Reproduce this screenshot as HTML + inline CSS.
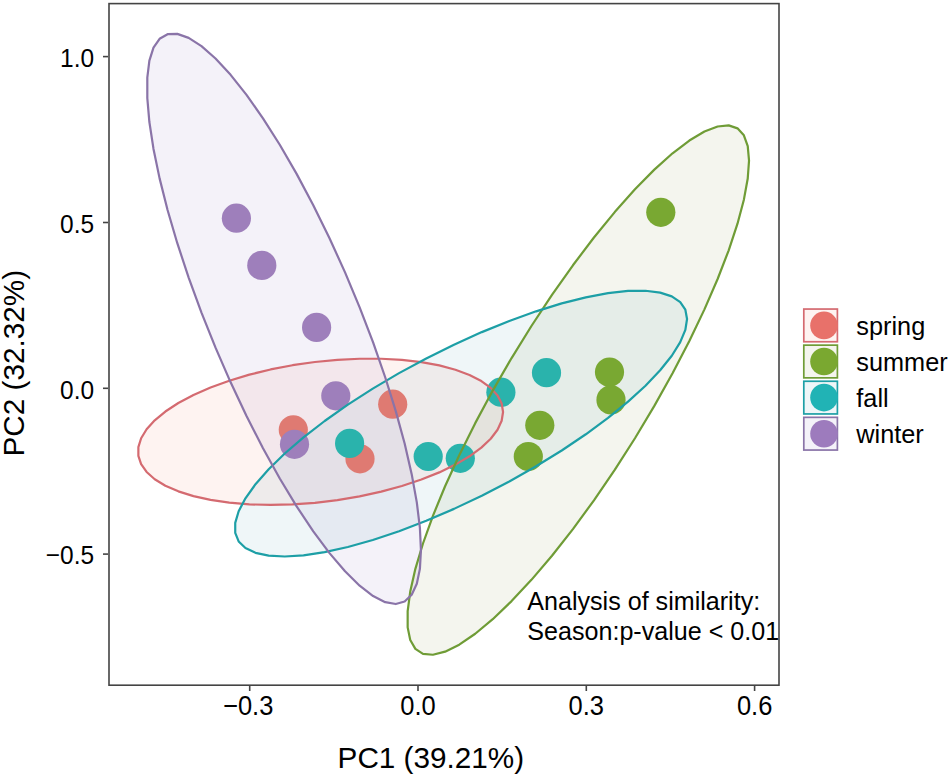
<!DOCTYPE html>
<html><head><meta charset="utf-8"><style>html,body{margin:0;padding:0;background:#fff;}svg{display:block}</style></head>
<body><svg width="950" height="777" viewBox="0 0 950 777">
<rect width="950" height="777" fill="#fff"/>
<polygon points="503.05,411.98 501.67,420.79 497.54,429.76 490.73,438.77 481.34,447.66 469.51,456.32 455.42,464.60 439.29,472.39 421.35,479.56 401.89,486.01 381.20,491.63 359.58,496.35 337.38,500.09 314.92,502.79 292.54,504.42 270.59,504.94 249.39,504.36 229.28,502.67 210.55,499.92 193.48,496.12 178.34,491.36 165.36,485.69 154.73,479.20 146.61,471.99 141.13,464.18 138.37,455.87 138.37,447.20 141.13,438.29 146.61,429.29 154.73,420.32 165.36,411.53 178.34,403.04 193.48,394.99 210.55,387.50 229.28,380.68 249.39,374.63 270.59,369.45 292.54,365.21 314.92,361.99 337.38,359.82 359.58,358.74 381.20,358.77 401.89,359.90 421.35,362.13 439.29,365.41 455.42,369.70 469.51,374.93 481.34,381.02 490.73,387.88 497.54,395.40 501.67,403.48" fill="rgb(245,135,115)" fill-opacity="0.1"/>
<polygon points="749.04,160.53 747.74,178.49 743.88,199.66 737.50,223.71 728.71,250.28 717.63,278.98 704.45,309.36 689.34,340.96 672.56,373.31 654.34,405.91 634.97,438.27 614.74,469.91 593.95,500.33 572.92,529.08 551.98,555.73 531.43,579.86 511.59,601.12 492.76,619.18 475.23,633.77 459.25,644.66 445.08,651.69 432.93,654.76 422.98,653.82 415.38,648.88 410.25,640.02 407.66,627.36 407.66,611.12 410.25,591.52 415.38,568.86 422.98,543.50 432.93,515.82 445.08,486.22 459.25,455.17 475.23,423.14 492.76,390.60 511.59,358.05 531.43,326.00 551.98,294.91 572.92,265.27 593.95,237.51 614.74,212.08 634.97,189.34 654.34,169.64 672.56,153.29 689.34,140.52 704.45,131.54 717.63,126.48 728.71,125.41 737.50,128.36 743.88,135.28 747.74,146.06" fill="rgb(145,155,85)" fill-opacity="0.1"/>
<polygon points="687.06,319.01 685.35,329.90 680.23,342.20 671.79,355.74 660.16,370.31 645.50,385.69 628.05,401.64 608.06,417.92 585.84,434.28 561.73,450.49 536.09,466.28 509.31,481.43 481.80,495.70 453.97,508.88 426.25,520.76 399.05,531.17 372.79,539.95 347.87,546.96 324.66,552.11 303.52,555.30 284.76,556.50 268.68,555.68 255.50,552.86 245.45,548.08 238.66,541.41 235.23,532.95 235.23,522.84 238.66,511.22 245.45,498.27 255.50,484.19 268.68,469.19 284.76,453.50 303.52,437.35 324.66,421.00 347.87,404.68 372.79,388.65 399.05,373.15 426.25,358.41 453.97,344.66 481.80,332.11 509.31,320.94 536.09,311.33 561.73,303.42 585.84,297.33 608.06,293.15 628.05,290.95 645.50,290.76 660.16,292.59 671.79,296.39 680.23,302.13 685.35,309.71" fill="rgb(95,165,185)" fill-opacity="0.1"/>
<polygon points="420.94,550.10 419.90,568.86 416.81,583.83 411.69,594.79 404.65,601.56 395.77,604.04 385.20,602.20 373.10,596.06 359.64,585.72 345.04,571.33 329.51,553.12 313.29,531.35 296.63,506.35 279.78,478.52 262.99,448.26 246.52,416.04 230.62,382.34 215.52,347.68 201.47,312.59 188.66,277.58 177.30,243.20 167.56,209.97 159.59,178.38 153.49,148.92 149.38,122.04 147.31,98.14 147.31,77.58 149.38,60.68 153.49,47.70 159.59,38.82 167.56,34.18 177.30,33.86 188.66,37.86 201.47,46.11 215.52,58.50 230.62,74.83 246.52,94.86 262.99,118.29 279.78,144.75 296.63,173.86 313.29,205.15 329.51,238.18 345.04,272.42 359.64,307.36 373.10,342.48 385.20,377.24 395.77,411.11 404.65,443.58 411.69,474.16 416.81,502.39 419.90,527.83" fill="rgb(145,125,195)" fill-opacity="0.1"/>
<circle cx="293.3" cy="429.8" r="14.6" fill="#DF7A72"/>
<circle cx="392.7" cy="404.2" r="14.6" fill="#DF7A72"/>
<circle cx="360.0" cy="458.8" r="14.6" fill="#DF7A72"/>
<circle cx="660.8" cy="212.3" r="14.6" fill="#79A832"/>
<circle cx="609.5" cy="372.1" r="14.6" fill="#79A832"/>
<circle cx="611.0" cy="399.9" r="14.6" fill="#79A832"/>
<circle cx="539.8" cy="425.3" r="14.6" fill="#79A832"/>
<circle cx="528.3" cy="456.5" r="14.6" fill="#79A832"/>
<circle cx="349.6" cy="443.4" r="14.6" fill="#2AB3AC"/>
<circle cx="428.2" cy="456.5" r="14.6" fill="#2AB3AC"/>
<circle cx="460.3" cy="458.3" r="14.6" fill="#2AB3AC"/>
<circle cx="500.9" cy="392.2" r="14.6" fill="#2AB3AC"/>
<circle cx="546.5" cy="372.7" r="14.6" fill="#2AB3AC"/>
<circle cx="236.4" cy="218.2" r="14.6" fill="#9E7FBB"/>
<circle cx="261.8" cy="265.4" r="14.6" fill="#9E7FBB"/>
<circle cx="316.6" cy="327.4" r="14.6" fill="#9E7FBB"/>
<circle cx="335.8" cy="395.8" r="14.6" fill="#9E7FBB"/>
<circle cx="294.5" cy="444.3" r="14.6" fill="#9E7FBB"/>
<polygon points="503.05,411.98 501.67,420.79 497.54,429.76 490.73,438.77 481.34,447.66 469.51,456.32 455.42,464.60 439.29,472.39 421.35,479.56 401.89,486.01 381.20,491.63 359.58,496.35 337.38,500.09 314.92,502.79 292.54,504.42 270.59,504.94 249.39,504.36 229.28,502.67 210.55,499.92 193.48,496.12 178.34,491.36 165.36,485.69 154.73,479.20 146.61,471.99 141.13,464.18 138.37,455.87 138.37,447.20 141.13,438.29 146.61,429.29 154.73,420.32 165.36,411.53 178.34,403.04 193.48,394.99 210.55,387.50 229.28,380.68 249.39,374.63 270.59,369.45 292.54,365.21 314.92,361.99 337.38,359.82 359.58,358.74 381.20,358.77 401.89,359.90 421.35,362.13 439.29,365.41 455.42,369.70 469.51,374.93 481.34,381.02 490.73,387.88 497.54,395.40 501.67,403.48" fill="none" stroke="#D46A70" stroke-width="2.2" stroke-linejoin="round"/>
<polygon points="749.04,160.53 747.74,178.49 743.88,199.66 737.50,223.71 728.71,250.28 717.63,278.98 704.45,309.36 689.34,340.96 672.56,373.31 654.34,405.91 634.97,438.27 614.74,469.91 593.95,500.33 572.92,529.08 551.98,555.73 531.43,579.86 511.59,601.12 492.76,619.18 475.23,633.77 459.25,644.66 445.08,651.69 432.93,654.76 422.98,653.82 415.38,648.88 410.25,640.02 407.66,627.36 407.66,611.12 410.25,591.52 415.38,568.86 422.98,543.50 432.93,515.82 445.08,486.22 459.25,455.17 475.23,423.14 492.76,390.60 511.59,358.05 531.43,326.00 551.98,294.91 572.92,265.27 593.95,237.51 614.74,212.08 634.97,189.34 654.34,169.64 672.56,153.29 689.34,140.52 704.45,131.54 717.63,126.48 728.71,125.41 737.50,128.36 743.88,135.28 747.74,146.06" fill="none" stroke="#6F9C36" stroke-width="2.2" stroke-linejoin="round"/>
<polygon points="687.06,319.01 685.35,329.90 680.23,342.20 671.79,355.74 660.16,370.31 645.50,385.69 628.05,401.64 608.06,417.92 585.84,434.28 561.73,450.49 536.09,466.28 509.31,481.43 481.80,495.70 453.97,508.88 426.25,520.76 399.05,531.17 372.79,539.95 347.87,546.96 324.66,552.11 303.52,555.30 284.76,556.50 268.68,555.68 255.50,552.86 245.45,548.08 238.66,541.41 235.23,532.95 235.23,522.84 238.66,511.22 245.45,498.27 255.50,484.19 268.68,469.19 284.76,453.50 303.52,437.35 324.66,421.00 347.87,404.68 372.79,388.65 399.05,373.15 426.25,358.41 453.97,344.66 481.80,332.11 509.31,320.94 536.09,311.33 561.73,303.42 585.84,297.33 608.06,293.15 628.05,290.95 645.50,290.76 660.16,292.59 671.79,296.39 680.23,302.13 685.35,309.71" fill="none" stroke="#1D9FA6" stroke-width="2.2" stroke-linejoin="round"/>
<polygon points="420.94,550.10 419.90,568.86 416.81,583.83 411.69,594.79 404.65,601.56 395.77,604.04 385.20,602.20 373.10,596.06 359.64,585.72 345.04,571.33 329.51,553.12 313.29,531.35 296.63,506.35 279.78,478.52 262.99,448.26 246.52,416.04 230.62,382.34 215.52,347.68 201.47,312.59 188.66,277.58 177.30,243.20 167.56,209.97 159.59,178.38 153.49,148.92 149.38,122.04 147.31,98.14 147.31,77.58 149.38,60.68 153.49,47.70 159.59,38.82 167.56,34.18 177.30,33.86 188.66,37.86 201.47,46.11 215.52,58.50 230.62,74.83 246.52,94.86 262.99,118.29 279.78,144.75 296.63,173.86 313.29,205.15 329.51,238.18 345.04,272.42 359.64,307.36 373.10,342.48 385.20,377.24 395.77,411.11 404.65,443.58 411.69,474.16 416.81,502.39 419.90,527.83" fill="none" stroke="#8A74A8" stroke-width="2.2" stroke-linejoin="round"/>
<rect x="109.0" y="3.6" width="670.0" height="681.6" fill="none" stroke="#444" stroke-width="1.6"/>
<line x1="103" y1="56.6" x2="108" y2="56.6" stroke="#444" stroke-width="1.6"/>
<text transform="translate(94.1 66.9) scale(1 1.08)" text-anchor="end" font-size="24.5" fill="#000" style='font-family:"Liberation Sans",sans-serif;'>1.0</text>
<line x1="103" y1="222.5" x2="108" y2="222.5" stroke="#444" stroke-width="1.6"/>
<text transform="translate(94.1 232.8) scale(1 1.08)" text-anchor="end" font-size="24.5" fill="#000" style='font-family:"Liberation Sans",sans-serif;'>0.5</text>
<line x1="103" y1="388.3" x2="108" y2="388.3" stroke="#444" stroke-width="1.6"/>
<text transform="translate(94.1 398.6) scale(1 1.08)" text-anchor="end" font-size="24.5" fill="#000" style='font-family:"Liberation Sans",sans-serif;'>0.0</text>
<line x1="103" y1="554.1" x2="108" y2="554.1" stroke="#444" stroke-width="1.6"/>
<text transform="translate(94.1 564.4) scale(1 1.08)" text-anchor="end" font-size="24.5" fill="#000" style='font-family:"Liberation Sans",sans-serif;'>−0.5</text>
<line x1="249.7" y1="685.5" x2="249.7" y2="691" stroke="#444" stroke-width="1.6"/>
<text transform="translate(248.2 715.4) scale(1 1.08)" text-anchor="middle" font-size="25.5" fill="#000" style='font-family:"Liberation Sans",sans-serif;'>−0.3</text>
<line x1="418.0" y1="685.5" x2="418.0" y2="691" stroke="#444" stroke-width="1.6"/>
<text transform="translate(418.0 715.4) scale(1 1.08)" text-anchor="middle" font-size="25.5" fill="#000" style='font-family:"Liberation Sans",sans-serif;'>0.0</text>
<line x1="586.3" y1="685.5" x2="586.3" y2="691" stroke="#444" stroke-width="1.6"/>
<text transform="translate(586.3 715.4) scale(1 1.08)" text-anchor="middle" font-size="25.5" fill="#000" style='font-family:"Liberation Sans",sans-serif;'>0.3</text>
<line x1="754.6" y1="685.5" x2="754.6" y2="691" stroke="#444" stroke-width="1.6"/>
<text transform="translate(754.6 715.4) scale(1 1.08)" text-anchor="middle" font-size="25.5" fill="#000" style='font-family:"Liberation Sans",sans-serif;'>0.6</text>
<text transform="translate(430.8 767.8) scale(1 1.02)" text-anchor="middle" font-size="29.7" fill="#000" style='font-family:"Liberation Sans",sans-serif;'>PC1 (39.21%)</text>
<text transform="translate(24.2 363.2) rotate(-90) scale(1 1.0)" text-anchor="middle" font-size="29.7" fill="#000" style='font-family:"Liberation Sans",sans-serif;'>PC2 (32.32%)</text>
<text x="527.3" y="610" font-size="25.1" fill="#000" style='font-family:"Liberation Sans",sans-serif;'>Analysis of similarity:</text>
<text x="527.3" y="640.3" font-size="25.1" fill="#000" style='font-family:"Liberation Sans",sans-serif;'>Season:p-value &lt; 0.01</text>
<rect x="803.8" y="309.05" width="33.6" height="32.7" fill="rgb(245,135,115)" fill-opacity="0.1" stroke="#D46A70" stroke-width="1.7"/>
<circle cx="824.0" cy="325.40" r="13.8" fill="#E8716A"/>
<text x="856.3" y="335.40" font-size="25.3" fill="#000" style='font-family:"Liberation Sans",sans-serif;'>spring</text>
<rect x="803.8" y="345.15" width="33.6" height="32.7" fill="rgb(145,155,85)" fill-opacity="0.1" stroke="#6F9C36" stroke-width="1.7"/>
<circle cx="824.0" cy="361.50" r="13.8" fill="#7AA830"/>
<text x="856.3" y="371.40" font-size="25.3" fill="#000" style='font-family:"Liberation Sans",sans-serif;'>summer</text>
<rect x="803.8" y="381.25" width="33.6" height="32.7" fill="rgb(95,165,185)" fill-opacity="0.1" stroke="#1D9FA6" stroke-width="1.7"/>
<circle cx="824.0" cy="397.60" r="13.8" fill="#21B3B5"/>
<text x="856.3" y="407.40" font-size="25.3" fill="#000" style='font-family:"Liberation Sans",sans-serif;'>fall</text>
<rect x="803.8" y="417.35" width="33.6" height="32.7" fill="rgb(145,125,195)" fill-opacity="0.1" stroke="#8A74A8" stroke-width="1.7"/>
<circle cx="824.0" cy="433.70" r="13.8" fill="#9D7BBD"/>
<text x="856.3" y="443.40" font-size="25.3" fill="#000" style='font-family:"Liberation Sans",sans-serif;'>winter</text>
</svg></body></html>
